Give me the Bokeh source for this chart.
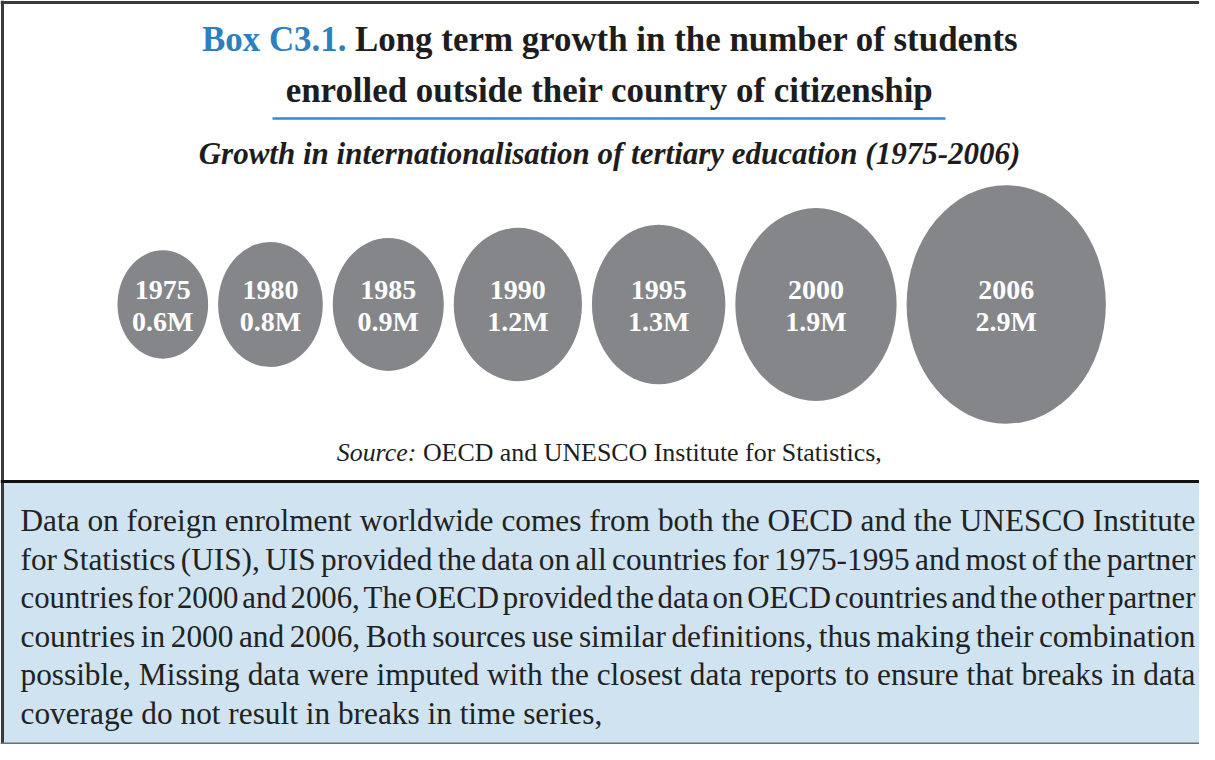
import glob
import os

import numpy as np
from bokeh.plotting import figure
from bokeh.models import Range1d, ColumnDataSource
from bokeh.embed import file_html
from bokeh.resources import INLINE
from bokeh.core.properties import value

# ---------------- data ----------------
years = ["1975", "1980", "1985", "1990", "1995", "2000", "2006"]
students_m = [0.6, 0.8, 0.9, 1.2, 1.3, 1.9, 2.9]
value_labels = ["0.6M", "0.8M", "0.9M", "1.2M", "1.3M", "1.9M", "2.9M"]

title_prefix = "Box C3.1."
title_line1 = "Long term growth in the number of students"
title_line2 = "enrolled outside their country of citizenship"
subtitle = "Growth in internationalisation of tertiary education (1975-2006)"
source_label = "Source:"
source_text = "OECD and UNESCO Institute for Statistics,"
note_lines = [
    "Data on foreign enrolment worldwide comes from both the OECD and the UNESCO Institute",
    "for Statistics (UIS), UIS provided the data on all countries for 1975-1995 and most of the partner",
    "countries for 2000 and 2006, The OECD provided the data on OECD countries and the other partner",
    "countries in 2000 and 2006, Both sources use similar definitions, thus making their combination",
    "possible, Missing data were imputed with the closest data reports to ensure that breaks in data",
    "coverage do not result in breaks in time series,",
]

# ---------------- font metrics helper ----------------
FONT = "Liberation Serif"
_files = {
    "normal": "LiberationSerif-Regular.ttf",
    "bold": "LiberationSerif-Bold.ttf",
    "italic": "LiberationSerif-Italic.ttf",
    "bold italic": "LiberationSerif-BoldItalic.ttf",
}
_cache = {}


def _font(style):
    if style in _cache:
        return _cache[style]
    f = None
    try:
        from PIL import ImageFont
        for root in ["/usr/share/fonts", "/usr/local/share/fonts",
                     os.path.expanduser("~/.fonts"), os.path.expanduser("~/.local/share/fonts")]:
            hits = glob.glob(os.path.join(root, "**", _files[style]), recursive=True)
            if hits:
                f = ImageFont.truetype(hits[0], 100)
                break
    except Exception:
        f = None
    _cache[style] = f
    return f


W, H = 1199, 744


def tw(s, size, style="normal"):
    """text width in px for a font size in px"""
    f = _font(style)
    if f is not None:
        return f.getlength(s) * size / 100.0
    return len(s) * size * (0.47 if "bold" in style else 0.44)


def fit_size(s, target, style):
    return 100.0 * target / tw(s, 100.0, style)


# ---------------- figure ----------------
p = figure(width=W, height=H, x_range=Range1d(0, W), y_range=Range1d(H, 0),
           output_backend="svg", toolbar_location=None, min_border=0)
p.axis.visible = False
p.grid.visible = False
p.outline_line_color = None
p.background_fill_color = "white"
p.border_fill_color = "white"

CX = 609
DARK = "#1d1d1d"

# frame
p.quad(left=0, right=W, top=482, bottom=H, fill_color="#cfe3f0", line_color=None)
p.segment(x0=0, y0=2, x1=W, y1=2, line_color="#3a3a3a", line_width=3)
p.segment(x0=2, y0=0, x1=2, y1=H, line_color="#3a3a3a", line_width=3)
p.segment(x0=0, y0=481, x1=W, y1=481, line_color="#111111", line_width=3)
p.segment(x0=0, y0=H - 1, x1=W, y1=H - 1, line_color="#6d6f73", line_width=2)

# title line 1 (blue prefix + black text)
t1_size = fit_size(title_prefix + " " + title_line1, 815, "bold")
w_pre = tw(title_prefix + " ", t1_size, "bold")
w_all = tw(title_prefix + " " + title_line1, t1_size, "bold")
x_start = CX - w_all / 2
p.text(x=[x_start], y=[39], text=[title_prefix], text_font=value(FONT), text_font_style="bold",
       text_font_size=f"{t1_size:.1f}px", text_color="#2d7fc0", text_align="left", text_baseline="middle")
p.text(x=[x_start + w_pre], y=[39], text=[title_line1], text_font=value(FONT), text_font_style="bold",
       text_font_size=f"{t1_size:.1f}px", text_color=DARK, text_align="left", text_baseline="middle")
p.text(x=[CX], y=[90], text=[title_line2], text_font=value(FONT), text_font_style="bold",
       text_font_size=f"{t1_size:.1f}px", text_color=DARK, text_align="center", text_baseline="middle")
p.segment(x0=272, y0=118, x1=945, y1=118, line_color="#3a88c8", line_width=2.5)

sub_size = fit_size(subtitle, 822, "bold italic")
p.text(x=[CX], y=[153], text=[subtitle], text_font=value(FONT), text_font_style="bold italic",
       text_font_size=f"{sub_size:.1f}px", text_color=DARK, text_align="center", text_baseline="middle")

# bubbles: size ~ sqrt(value)
KW, KH, GAP, LEFT = 117.0, 140.0, 10.0, 117.0
root = np.sqrt(np.array(students_m))
bw = KW * root
bh = KH * root
starts = LEFT + np.concatenate([[0.0], np.cumsum(bw[:-1] + GAP)])
bx = starts + bw / 2
by = np.full(len(bx), 304.0)
src = ColumnDataSource(dict(x=bx, y=by, w=bw, h=bh, year=years, val=value_labels,
                            y1=by - 15, y2=by + 17))
p.ellipse(x="x", y="y", width="w", height="h", source=src, fill_color="#858689", line_color=None)
p.text(x="x", y="y1", text="year", source=src, text_font=value(FONT), text_font_style="bold",
       text_font_size="28px", text_color="white", text_align="center", text_baseline="middle")
p.text(x="x", y="y2", text="val", source=src, text_font=value(FONT), text_font_style="bold",
       text_font_size="28px", text_color="white", text_align="center", text_baseline="middle")

# source line
src_size = fit_size(source_label + " " + source_text, 545, "normal")
w_lab = tw(source_label + " ", src_size, "italic")
w_src = w_lab + tw(source_text, src_size, "normal")
sx = CX - w_src / 2
p.text(x=[sx], y=[452], text=[source_label], text_font=value(FONT), text_font_style="italic",
       text_font_size=f"{src_size:.1f}px", text_color=DARK, text_align="left", text_baseline="middle")
p.text(x=[sx + w_lab], y=[452], text=[source_text], text_font=value(FONT),
       text_font_size=f"{src_size:.1f}px", text_color=DARK, text_align="left", text_baseline="middle")

# justified note
XL, XR = 20.0, 1195.0
LW = XR - XL
body_size = fit_size(note_lines[0], LW, "normal")
wx, wy, wt, wf = [], [], [], []
for i, line in enumerate(note_lines):
    yy = 520 + i * 38.5
    words = line.split(" ")
    fs = body_size
    widths = [tw(w, fs) for w in words]
    if i < len(note_lines) - 1 and len(words) > 1:
        total = sum(widths)
        min_sp = 0.12 * fs
        if total + min_sp * (len(words) - 1) > LW:
            fs = fs * LW / (total + min_sp * (len(words) - 1))
            widths = [tw(w, fs) for w in words]
            total = sum(widths)
        sp = (LW - total) / (len(words) - 1)
    else:
        sp = tw(" ", fs)
    x = XL
    for w, ww in zip(words, widths):
        wx.append(x)
        wy.append(yy)
        wt.append(w)
        wf.append(f"{fs:.1f}px")
        x += ww + sp
note_src = ColumnDataSource(dict(x=wx, y=wy, t=wt, f=wf))
p.text(x="x", y="y", text="t", text_font_size="f", source=note_src, text_font=value(FONT),
       text_color="#222222", text_align="left", text_baseline="middle")

open("out.html", "w").write(file_html(p, INLINE))
